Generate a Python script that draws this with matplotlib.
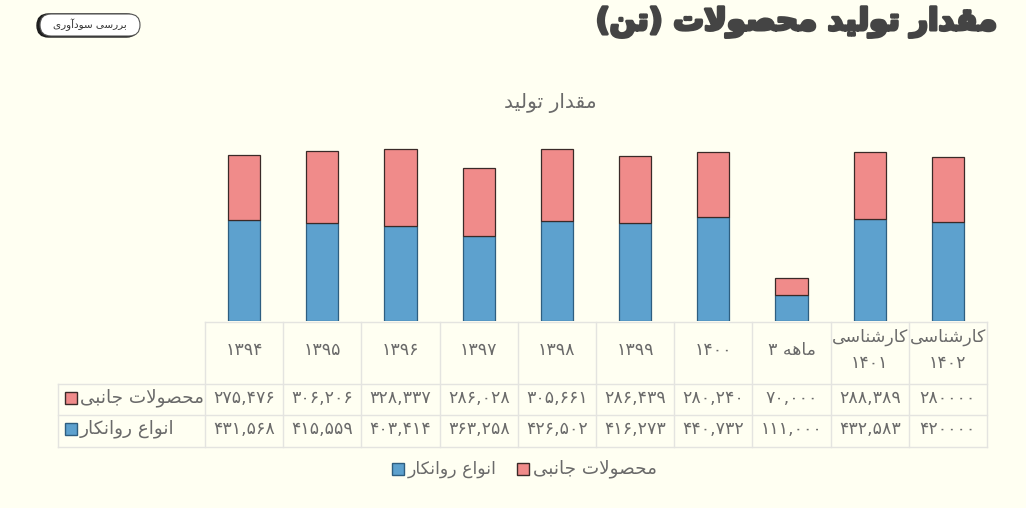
import matplotlib
matplotlib.use("Agg")
import matplotlib.pyplot as plt
from matplotlib.patches import FancyBboxPatch, Rectangle
from matplotlib.lines import Line2D
import matplotlib.patheffects as pe
import numpy as np

# ---------------- data ----------------
categories = ["۱۳۹۴", "۱۳۹۵", "۱۳۹۶", "۱۳۹۷", "۱۳۹۸", "۱۳۹۹", "۱۴۰۰",
              "\u06F3 " + "ماهه", "کارشناسی\n۱۴۰۱", "کارشناسی\n۱۴۰۲"]
lubricants = [431568, 415559, 403414, 363258, 426502, 416273, 440732, 111000, 432583, 420000]
byproducts = [275476, 306206, 328337, 286028, 305661, 286439, 280240, 70000, 288389, 280000]
grouped = [True] * 9 + [False]   # last column is shown without thousands separators
series_names = ["انواع روانکار", "محصولات جانبی"]
title_text = "مقدار تولید محصولات (تن)"
chart_title = "مقدار تولید"
button_text = "بررسی سودآوری"

# ---------------- minimal Persian shaping ----------------
FORMS = {  # iso, fin, ini, med
    'آ': ('\uFE81', '\uFE82', None, None),
    'ا': ('\uFE8D', '\uFE8E', None, None),
    'ب': ('\uFE8F', '\uFE90', '\uFE91', '\uFE92'),
    'ت': ('\uFE95', '\uFE96', '\uFE97', '\uFE98'),
    'ج': ('\uFE9D', '\uFE9E', '\uFE9F', '\uFEA0'),
    'ح': ('\uFEA1', '\uFEA2', '\uFEA3', '\uFEA4'),
    'د': ('\uFEA9', '\uFEAA', None, None),
    'ر': ('\uFEAD', '\uFEAE', None, None),
    'س': ('\uFEB1', '\uFEB2', '\uFEB3', '\uFEB4'),
    'ش': ('\uFEB5', '\uFEB6', '\uFEB7', '\uFEB8'),
    'ص': ('\uFEB9', '\uFEBA', '\uFEBB', '\uFEBC'),
    'ع': ('\uFEC9', '\uFECA', '\uFECB', '\uFECC'),
    'ق': ('\uFED5', '\uFED6', '\uFED7', '\uFED8'),
    'ل': ('\uFEDD', '\uFEDE', '\uFEDF', '\uFEE0'),
    'م': ('\uFEE1', '\uFEE2', '\uFEE3', '\uFEE4'),
    'ن': ('\uFEE5', '\uFEE6', '\uFEE7', '\uFEE8'),
    'ه': ('\uFEE9', '\uFEEA', '\uFEEB', '\uFEEC'),
    'و': ('\uFEED', '\uFEEE', None, None),
    'ک': ('\uFB8E', '\uFB8F', '\uFB90', '\uFB91'),
    'ی': ('\uFBFC', '\uFBFD', '\uFBFE', '\uFBFF'),
}
LAMALEF = {'ا': ('\uFEFB', '\uFEFC'), 'آ': ('\uFEF5', '\uFEF6')}
MIRROR = {'(': ')', ')': '('}


def is_dual(c):
    return c in FORMS and FORMS[c][2] is not None


def shape_word(s):
    out = []
    i, n = 0, len(s)
    while i < n:
        c = s[i]
        if c in FORMS:
            jp = i > 0 and is_dual(s[i - 1])
            if c == 'ل' and i + 1 < n and s[i + 1] in LAMALEF:
                out.append(LAMALEF[s[i + 1]][1 if jp else 0])
                i += 2
                continue
            jn = is_dual(c) and i + 1 < n and s[i + 1] in FORMS
            iso, fin, ini, med = FORMS[c]
            out.append(med if (jp and jn) else fin if jp else ini if jn else iso)
        else:
            out.append(c)
        i += 1
    return ''.join(out)


def is_ltr_char(c):
    return c.isdigit() or ('a' <= c.lower() <= 'z') or c == ','


def visual_rtl(s):
    """RTL paragraph: reverse, keeping digit runs in order, mirroring brackets."""
    shaped = shape_word(s)
    runs, cur, cur_ltr = [], '', None
    for c in shaped:
        l = is_ltr_char(c)
        if cur and l != cur_ltr:
            runs.append((cur, cur_ltr)); cur = ''
        cur += c; cur_ltr = l
    if cur:
        runs.append((cur, cur_ltr))
    res = ''
    for r, l in reversed(runs):
        res += r if l else ''.join(MIRROR.get(ch, ch) for ch in reversed(r))
    return res


def visual_ltr(s):
    """LTR paragraph: words kept in order, Persian words reversed."""
    return ' '.join(visual_rtl(w) if any(ch in FORMS for ch in w) else w for w in s.split(' '))


def vis_label(s):
    return '\n'.join(visual_ltr(line) for line in s.split('\n'))


PDIG = str.maketrans('0123456789', '۰۱۲۳۴۵۶۷۸۹')


def fmt(v, g):
    return (f"{v:,}" if g else f"{v}").translate(PDIG)


# ---------------- figure ----------------
W, H = 1026, 508
BG = '#FFFFF2'
BLUE, BLUE_E = '#5DA1CE', '#2E5E80'
PINK, PINK_E = '#F08B8A', '#3A2A28'
GRID = '#E4E4E0'
TXT = '#6A6A6A'

plt.rcParams['font.family'] = ['DejaVu Sans']
fig = plt.figure(figsize=(W / 100, H / 100), dpi=100, facecolor=BG)


def fx(px):
    return px / W


def fy(py):
    return 1 - py / H


x0, x1 = 205, 987
base_y, top_y = 321, 133
ax = fig.add_axes([fx(x0), fy(base_y), fx(x1 - x0), (base_y - top_y) / H])
ax.set_facecolor('none')
n = len(categories)
x = np.arange(n)
ax.bar(x, lubricants, width=0.41, color=BLUE, edgecolor=BLUE_E, linewidth=0.9)
ax.bar(x, byproducts, width=0.41, bottom=lubricants, color=PINK, edgecolor=PINK_E, linewidth=0.9)
ax.set_xlim(-0.5, n - 0.5)
ax.set_ylim(0, 800000)
ax.axis('off')

# ---------------- table ----------------
colw = (x1 - x0) / n
rows_y = [322, 384, 415, 447]
lw = 1.0
fig.add_artist(Line2D([fx(x0), fx(x1)], [fy(322), fy(322)], color=GRID, lw=lw))
for yy in rows_y[1:]:
    fig.add_artist(Line2D([fx(58), fx(x1)], [fy(yy), fy(yy)], color=GRID, lw=lw))
for i in range(n + 1):
    xx = x0 + i * colw
    fig.add_artist(Line2D([fx(xx), fx(xx)], [fy(322), fy(447)], color=GRID, lw=lw))
fig.add_artist(Line2D([fx(58), fx(58)], [fy(384), fy(447)], color=GRID, lw=lw))

for i, c in enumerate(categories):
    cx = x0 + (i + 0.5) * colw
    fig.text(fx(cx), fy(350), vis_label(c), ha='center', va='center', fontsize=12.5,
             color=TXT, linespacing=1.55)
    fig.text(fx(cx), fy(398), fmt(byproducts[i], grouped[i]), ha='center', va='center',
             fontsize=12.5, color=TXT)
    fig.text(fx(cx), fy(429), fmt(lubricants[i], grouped[i]), ha='center', va='center',
             fontsize=12.5, color=TXT)

# row headers
for (yy, name, col, ec) in [(398, series_names[1], PINK, PINK_E), (429, series_names[0], BLUE, BLUE_E)]:
    fig.add_artist(Rectangle((fx(65), fy(yy + 6)), fx(12), 12 / H, facecolor=col,
                             edgecolor=ec, lw=1.0))
    fig.text(fx(80), fy(yy), visual_rtl(name), ha='left', va='center', fontsize=13.2, color=TXT)

# ---------------- legend ----------------
leg_y = 469
fig.add_artist(Rectangle((fx(392), fy(leg_y + 6)), fx(12), 12 / H, facecolor=BLUE,
                         edgecolor=BLUE_E, lw=1.0))
fig.text(fx(408), fy(leg_y), visual_rtl(series_names[0]), ha='left', va='center', fontsize=12.5, color=TXT)
fig.add_artist(Rectangle((fx(517), fy(leg_y + 6)), fx(12), 12 / H, facecolor=PINK,
                         edgecolor=PINK_E, lw=1.0))
fig.text(fx(533), fy(leg_y), visual_rtl(series_names[1]), ha='left', va='center', fontsize=13.2, color=TXT)

# ---------------- titles ----------------
fig.text(fx(550), fy(103), visual_rtl(chart_title), ha='center', va='center', fontsize=14.5, color=TXT)
fig.text(fx(997), fy(22), visual_rtl(title_text), ha='right', va='center', fontsize=22,
         fontweight='bold', color='#444444',
         path_effects=[pe.withStroke(linewidth=2.2, foreground='#444444')])

# ---------------- button ----------------
bax = fig.add_axes([fx(30), fy(42), fx(120), 32 / H])
bax.set_xlim(30, 150)
bax.set_ylim(42, 10)
bax.axis('off')
bax.add_patch(FancyBboxPatch((37, 14), 101, 23, boxstyle='round,pad=0,rounding_size=11.5',
                             facecolor='#1E1E1E', edgecolor='#1E1E1E', lw=1))
bax.add_patch(FancyBboxPatch((40, 14), 100, 22, boxstyle='round,pad=0,rounding_size=11',
                             facecolor='white', edgecolor='#555555', lw=0.8))
bax.text(90, 25, visual_rtl(button_text), ha='center', va='center', fontsize=7.5, color='#333333')

fig.savefig('out.png', dpi=100, facecolor=BG)
